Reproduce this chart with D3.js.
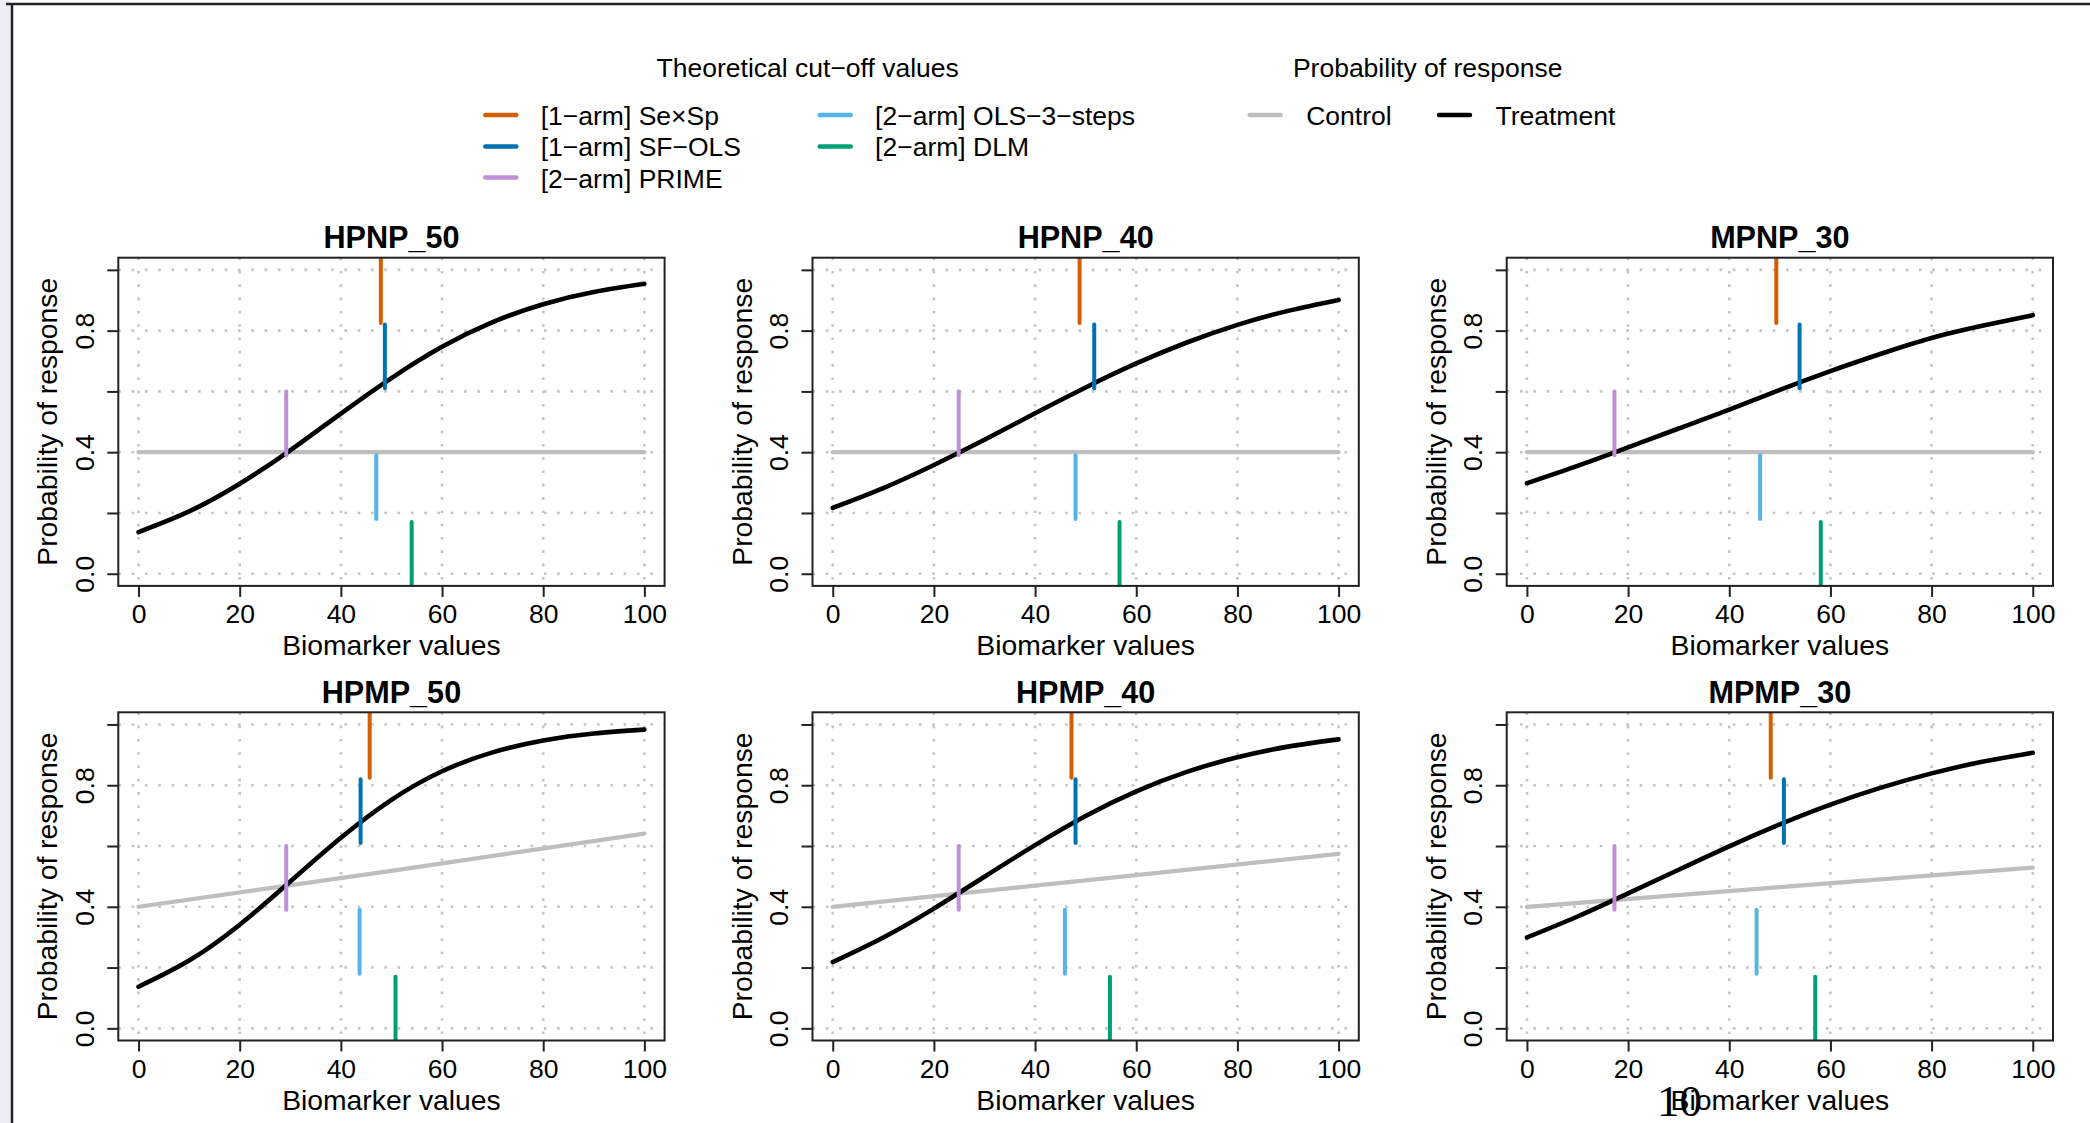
<!DOCTYPE html>
<html>
<head>
<meta charset="utf-8">
<script src="https://cdn.jsdelivr.net/npm/d3@7"></script>
<style>
  body { margin: 0; background: #fff; }
  svg { display: block; font-family: "Liberation Sans", Arial, Helvetica, sans-serif; }
</style>
</head>
<body>
<div id="chart"></div>
<script>
// ---- data ----
const panelNames = ['HPNP_50', 'HPNP_40', 'MPNP_30', 'HPMP_50', 'HPMP_40', 'MPMP_30'];

const methodNames = ['[1\u2212arm] Se\u00d7Sp', '[1\u2212arm] SF\u2212OLS', '[2\u2212arm] PRIME',
                     '[2\u2212arm] OLS\u22123\u2212steps', '[2\u2212arm] DLM'];

// probability band where each cut-off tick is drawn
const methodBands = [[0.825, 1.1], [0.61, 0.82], [0.39, 0.60], [0.18, 0.39], [-0.1, 0.17]];

// cut-off value per panel, same order as methodNames
const cutoffs = [
  [47.9, 48.7, 29.2, 47.0, 54.0],
  [48.8, 51.7, 24.9, 48.0, 56.7],
  [49.3, 53.9, 17.3, 46.1, 58.1],
  [45.7, 43.9, 29.2, 43.7, 50.8],
  [47.2, 48.0, 24.9, 45.9, 54.8],
  [48.2, 50.8, 17.3, 45.4, 57.0]
];

const biomarkerX = [0, 10, 20, 30, 40, 50, 60, 70, 80, 90, 100];
const treatmentProb = [
  [0.137, 0.205, 0.296, 0.406, 0.527, 0.644, 0.747, 0.828, 0.887, 0.927, 0.954],
  [0.217, 0.282, 0.358, 0.441, 0.528, 0.613, 0.692, 0.761, 0.819, 0.865, 0.901],
  [0.298, 0.355, 0.416, 0.478, 0.540, 0.605, 0.667, 0.724, 0.776, 0.816, 0.851],
  [0.137, 0.223, 0.341, 0.483, 0.627, 0.752, 0.846, 0.908, 0.947, 0.970, 0.983],
  [0.218, 0.299, 0.394, 0.499, 0.603, 0.699, 0.780, 0.844, 0.892, 0.927, 0.951],
  [0.299, 0.368, 0.444, 0.522, 0.599, 0.671, 0.736, 0.792, 0.839, 0.877, 0.907]
];

const controlX = [0, 50, 100];
const controlProb = [
  [0.40, 0.40, 0.40],
  [0.40, 0.40, 0.40],
  [0.40, 0.40, 0.40],
  [0.40, 0.518, 0.641],
  [0.40, 0.487, 0.574],
  [0.40, 0.465, 0.529]
];

const xTicks = [0, 20, 40, 60, 80, 100];
const yTicks = [0, 0.2, 0.4, 0.6, 0.8, 1.0];
const yLabelled = [0, 0.4, 0.8];

const armNames = ['Control', 'Treatment'];

// ---- layout / style ----
const W = 2090, H = 1123;
const colLeft = [118.3, 812.5, 1506.7];
const rowTop = [257.7, 712.3];
const plotW = 546.3, plotH = 328.2;

const methodColors = ['#D55E00', '#0072B2', '#BF8FD8', '#56B4E9', '#009E73'];
const armColors = ['#BEBEBE', '#000000'];

const tickFont = 26.5, labFont = 28.3, titleFont = 30.6, legFont = 26.5;

const $svg = d3.select('#chart').append('svg')
  .attr('width', W)
  .attr('height', H);

$svg.append('rect').attr('width', W).attr('height', H).attr('fill', '#fff');

// slide decoration
$svg.append('rect')
  .attr('x', 0).attr('y', 0).attr('width', 11).attr('height', H)
  .attr('fill', '#efecf7');
$svg.append('line')
  .attr('x1', 6).attr('x2', W).attr('y1', 4).attr('y2', 4)
  .attr('stroke', '#222').attr('stroke-width', 2.5);
$svg.append('line')
  .attr('x1', 12).attr('x2', 12).attr('y1', 4).attr('y2', H)
  .attr('stroke', '#222').attr('stroke-width', 2.5);

// ---- panels ----
panelNames.forEach((name, i) => {
  const col = i % 3, row = Math.floor(i / 3);
  const left = colLeft[col], top = rowTop[row];

  const xScale = d3.scaleLinear().domain([-4, 104]).range([left, left + plotW]);
  const yScale = d3.scaleLinear().domain([-0.04, 1.04]).range([top + plotH, top]);

  const $g = $svg.append('g').classed('panel', true);

  $g.append('clipPath').attr('id', 'clip' + i)
    .append('rect')
    .attr('x', left).attr('y', top)
    .attr('width', plotW).attr('height', plotH);

  const $plot = $g.append('g').attr('clip-path', `url(#clip${i})`);

  // dotted grid
  $plot.selectAll('.vgrid')
    .data(xTicks)
    .enter()
    .append('line')
    .attr('x1', d => xScale(d)).attr('x2', d => xScale(d))
    .attr('y1', top).attr('y2', top + plotH)
    .attr('stroke', '#c4c4c4').attr('stroke-width', 2.6)
    .attr('stroke-dasharray', '2.6,10.7');

  $plot.selectAll('.hgrid')
    .data(yTicks)
    .enter()
    .append('line')
    .attr('x1', left).attr('x2', left + plotW)
    .attr('y1', d => yScale(d)).attr('y2', d => yScale(d))
    .attr('stroke', '#c4c4c4').attr('stroke-width', 2.6)
    .attr('stroke-dasharray', '2.6,10.7');

  const line = d3.line()
    .x(d => xScale(d[0]))
    .y(d => yScale(d[1]));

  $plot.append('path')
    .datum(controlX.map((v, j) => [v, controlProb[i][j]]))
    .attr('d', line.curve(d3.curveLinear))
    .attr('fill', 'none')
    .attr('stroke', armColors[0])
    .attr('stroke-width', 4.2)
    .attr('stroke-linecap', 'round');

  $plot.append('path')
    .datum(biomarkerX.map((v, j) => [v, treatmentProb[i][j]]))
    .attr('d', line.curve(d3.curveNatural))
    .attr('fill', 'none')
    .attr('stroke', armColors[1])
    .attr('stroke-width', 4.6)
    .attr('stroke-linecap', 'round');

  // cut-off ticks
  $plot.selectAll('.cutoff')
    .data(cutoffs[i])
    .enter()
    .append('line')
    .classed('cutoff', true)
    .attr('x1', d => xScale(d)).attr('x2', d => xScale(d))
    .attr('y1', (d, k) => yScale(methodBands[k][0]))
    .attr('y2', (d, k) => yScale(methodBands[k][1]))
    .attr('stroke', (d, k) => methodColors[k])
    .attr('stroke-width', 4)
    .attr('stroke-linecap', 'round');

  // box
  $g.append('rect')
    .attr('x', left).attr('y', top)
    .attr('width', plotW).attr('height', plotH)
    .attr('fill', 'none')
    .attr('stroke', '#222')
    .attr('stroke-width', 2);

  // axes
  const $xAxis = $g.append('g')
    .attr('transform', `translate(0, ${top + plotH})`)
    .call(d3.axisBottom(xScale).tickValues(xTicks).tickSize(11).tickSizeOuter(0));
  $xAxis.select('.domain').remove();
  $xAxis.selectAll('line').attr('stroke', '#222').attr('stroke-width', 2);
  $xAxis.selectAll('text')
    .attr('y', 37.6).attr('dy', null)
    .attr('fill', '#000')
    .style('font-size', tickFont + 'px')
    .style('font-family', '"Liberation Sans", Arial, sans-serif');

  const $yAxis = $g.append('g')
    .attr('transform', `translate(${left}, 0)`)
    .call(d3.axisLeft(yScale).tickValues(yTicks).tickSize(11).tickSizeOuter(0)
      .tickFormat(d => yLabelled.includes(d) ? d3.format('.1f')(d) : ''));
  $yAxis.select('.domain').remove();
  $yAxis.selectAll('line').attr('stroke', '#222').attr('stroke-width', 2);
  $yAxis.selectAll('text')
    .attr('x', null).attr('dy', null)
    .attr('text-anchor', 'middle')
    .attr('transform', 'translate(-24.5, 0) rotate(-90)')
    .attr('fill', '#000')
    .style('font-size', tickFont + 'px')
    .style('font-family', '"Liberation Sans", Arial, sans-serif');

  // titles
  $g.append('text')
    .attr('x', left + plotW / 2)
    .attr('y', top - 9.6)
    .attr('text-anchor', 'middle')
    .style('font-size', titleFont + 'px')
    .style('font-weight', 'bold')
    .text(name);

  $g.append('text')
    .attr('x', left + plotW / 2)
    .attr('y', top + plotH + 69.5)
    .attr('text-anchor', 'middle')
    .style('font-size', labFont + 'px')
    .text('Biomarker values');

  $g.append('text')
    .attr('transform', `translate(${left - 61}, ${top + plotH / 2}) rotate(-90)`)
    .attr('text-anchor', 'middle')
    .style('font-size', labFont + 'px')
    .text('Probability of response');
});

// ---- legends ----
const legendRows = [115, 146.4, 177.6];
const methodLegendCols = [483.3, 817.7];

const $leg = $svg.append('g').classed('legend', true);

$leg.append('text')
  .attr('x', 807.7).attr('y', 77.3)
  .attr('text-anchor', 'middle')
  .style('font-size', legFont + 'px')
  .text('Theoretical cut\u2212off values');

const $items = $leg.selectAll('.method-item')
  .data(methodNames)
  .enter()
  .append('g')
  .classed('method-item', true)
  .attr('transform', (d, k) => `translate(${methodLegendCols[Math.floor(k / 3)]}, ${legendRows[k % 3]})`);

$items.append('line')
  .attr('x1', 2).attr('x2', 33)
  .attr('stroke', (d, k) => methodColors[k])
  .attr('stroke-width', 4.5)
  .attr('stroke-linecap', 'round');

$items.append('text')
  .attr('x', 57.4).attr('y', 10)
  .style('font-size', legFont + 'px')
  .text(d => d);

$leg.append('text')
  .attr('x', 1427.7).attr('y', 77.3)
  .attr('text-anchor', 'middle')
  .style('font-size', legFont + 'px')
  .text('Probability of response');

const armLegendCols = [1247.7, 1437];
const $arms = $leg.selectAll('.arm-item')
  .data(armNames)
  .enter()
  .append('g')
  .classed('arm-item', true)
  .attr('transform', (d, k) => `translate(${armLegendCols[k]}, ${legendRows[0]})`);

$arms.append('line')
  .attr('x1', 2).attr('x2', 33)
  .attr('stroke', (d, k) => armColors[k])
  .attr('stroke-width', 4.5)
  .attr('stroke-linecap', 'round');

$arms.append('text')
  .attr('x', 58.5).attr('y', 10)
  .style('font-size', legFont + 'px')
  .text(d => d);

// slide page number
$svg.append('text')
  .attr('x', 1657).attr('y', 1116)
  .style('font-family', '"Liberation Serif", "Times New Roman", serif')
  .style('font-size', '45px')
  .text('10');
</script>
</body>
</html>
